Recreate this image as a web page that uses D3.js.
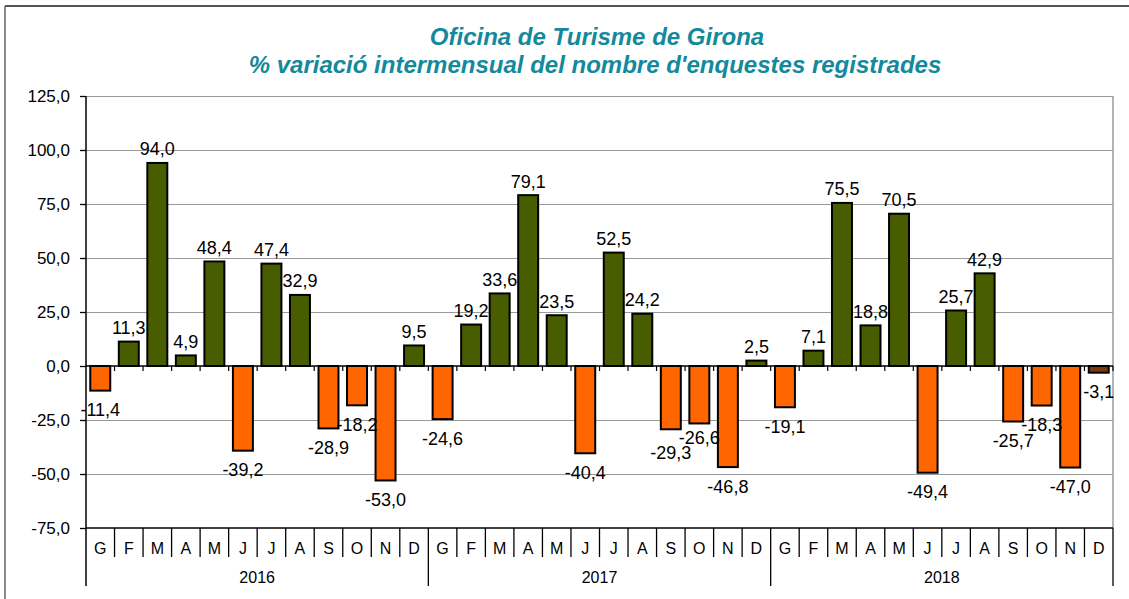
<!DOCTYPE html>
<html>
<head>
<meta charset="utf-8">
<script src="https://cdn.jsdelivr.net/npm/d3@7"></script>
<style>
  body { margin: 0; background: #fff; }
  svg { display: block; font-family: "Liberation Sans", Arial, sans-serif; }
</style>
</head>
<body>
<div id="chart"></div>
<script>
// titles
var title1 = "Oficina de Turisme de Girona";
var title2 = "% variació intermensual del nombre d'enquestes registrades";

// categories
var years = ["2016", "2017", "2018"];
var months = ["G", "F", "M", "A", "M", "J", "J", "A", "S", "O", "N", "D"];

// % variation per month, one array per year
var values2016 = [-11.4, 11.3, 94.0, 4.9, 48.4, -39.2, 47.4, 32.9, -28.9, -18.2, -53.0, 9.5];
var values2017 = [-24.6, 19.2, 33.6, 79.1, 23.5, -40.4, 52.5, 24.2, -29.3, -26.6, -46.8, 2.5];
var values2018 = [-19.1, 7.1, 75.5, 18.8, 70.5, -49.4, 25.7, 42.9, -25.7, -18.3, -47.0, -3.1];

// y axis ticks
var yTicks = [-75, -50, -25, 0, 25, 50, 75, 100, 125];

var width = 1129, height = 599;
var margin = {top: 96, right: 16, bottom: 71, left: 86};

var green = "#485d00", orange = "#ff6600", brown = "#7a3a0e";

// catalan number format: comma decimal, plain hyphen
var ca = d3.formatLocale({decimal: ",", thousands: ".", grouping: [3], currency: ["", "€"], minus: "-"});
var fmt = ca.format(".1f");

// flatten into one list of bars
var allValues = [values2016, values2017, values2018];
var data = [];
years.forEach(function(y, i) {
    months.forEach(function(m, j) {
        data.push({key: y + "-" + j, year: y, month: m, value: allValues[i][j]});
    });
});

var svg = d3.select("#chart").append("svg")
    .attr("width", width)
    .attr("height", height);

// outer frame
svg.append("line").attr("x1", 5).attr("x2", width).attr("y1", 6).attr("y2", 6)
    .attr("stroke", "#555").attr("stroke-width", 2);
svg.append("line").attr("x1", 5).attr("x2", 5).attr("y1", 6).attr("y2", height)
    .attr("stroke", "#666").attr("stroke-width", 1.5);

// title
var titleColor = "#13899b";
svg.append("text").attr("x", 597).attr("y", 45)
    .attr("text-anchor", "middle").attr("fill", titleColor)
    .attr("font-size", "24px").attr("font-weight", "bold").attr("font-style", "italic")
    .text(title1);
svg.append("text").attr("x", 595).attr("y", 73)
    .attr("text-anchor", "middle").attr("fill", titleColor)
    .attr("font-size", "24px").attr("font-weight", "bold").attr("font-style", "italic")
    .text(title2);

var x = d3.scaleBand()
    .domain(data.map(function(d) { return d.key; }))
    .range([margin.left, width - margin.right])
    .paddingInner(0.3)
    .paddingOuter(0.15);

var y = d3.scaleLinear()
    .domain([-75, 125])
    .range([528, margin.top]);

var step = x.step();
var x0 = margin.left, x1 = width - margin.right;

// right edge of a category cell
function cellEnd(d) { return x(d.key) - x.paddingOuter() * step + step; }

// gridlines
svg.append("g").selectAll("line")
    .data(yTicks.filter(function(t) { return t !== 0 && t !== -75; }))
    .enter().append("line")
    .attr("x1", x0).attr("x2", x1)
    .attr("y1", function(d) { return y(d) + 0.5; })
    .attr("y2", function(d) { return y(d) + 0.5; })
    .attr("stroke", "#9a9a9a").attr("stroke-width", 1.2);

// right border of the plot
svg.append("line").attr("x1", x1).attr("x2", x1).attr("y1", y(125)).attr("y2", y(-75))
    .attr("stroke", "#9a9a9a").attr("stroke-width", 1.5);

// y axis
var yAxis = d3.axisLeft(y)
    .tickValues(yTicks)
    .tickSize(6)
    .tickPadding(10)
    .tickFormat(fmt);

var gy = svg.append("g")
    .attr("transform", "translate(" + x0 + ",0)")
    .call(yAxis);
gy.select(".domain").remove();
gy.selectAll(".tick line").attr("stroke", "#000").attr("stroke-width", 1.3);
gy.selectAll(".tick text").attr("font-size", "17px").attr("fill", "#000")
    .attr("font-family", "'Liberation Sans', Arial, sans-serif");

// vertical axis line, down through the category box
svg.append("line").attr("x1", x0).attr("x2", x0).attr("y1", y(125)).attr("y2", 586)
    .attr("stroke", "#000").attr("stroke-width", 1.5);

// bottom line of the plot
svg.append("line").attr("x1", x0).attr("x2", x1).attr("y1", y(-75)).attr("y2", y(-75))
    .attr("stroke", "#000").attr("stroke-width", 1.3);

// bars
svg.append("g").selectAll("rect")
    .data(data, function(d) { return d.key; })
    .enter().append("rect")
    .attr("x", function(d) { return x(d.key); })
    .attr("width", x.bandwidth())
    .attr("y", function(d) { return y(Math.max(0, d.value)); })
    .attr("height", function(d) { return Math.abs(y(d.value) - y(0)); })
    .attr("fill", function(d, i) {
        if (i === data.length - 1) return brown;   // last (provisional) month
        return d.value >= 0 ? green : orange;
    })
    .attr("stroke", "#000")
    .attr("stroke-width", 2);

// zero line with small ticks at category boundaries
svg.append("line").attr("x1", x0).attr("x2", x1).attr("y1", y(0)).attr("y2", y(0))
    .attr("stroke", "#000").attr("stroke-width", 1.5);
svg.append("g").selectAll("line")
    .data(data)
    .enter().append("line")
    .attr("x1", cellEnd)
    .attr("x2", cellEnd)
    .attr("y1", y(0)).attr("y2", y(0) + 5)
    .attr("stroke", "#000").attr("stroke-width", 1.2);

// data label centres: above positive bars, below negative ones
data.forEach(function(d) {
    d.cy = d.value >= 0 ? y(d.value) - 14 : y(d.value) + 19;
});
// push apart labels of neighbouring bars that would collide
for (var i = 1; i < data.length; i++) {
    var a = data[i - 1], b = data[i];
    if ((a.value >= 0) !== (b.value >= 0)) continue;
    var gap = Math.abs(a.cy - b.cy);
    if (gap < 15) {
        var shift = (15 - gap) / 2;
        var lo = a.cy > b.cy ? a : b, hi = lo === a ? b : a;
        lo.cy += shift;
        hi.cy -= shift;
    }
}

svg.append("g").selectAll("text")
    .data(data)
    .enter().append("text")
    .attr("x", function(d) { return x(d.key) + x.bandwidth() / 2; })
    .attr("y", function(d) { return d.cy + 6.5; })
    .attr("text-anchor", "middle")
    .attr("font-size", "18px")
    .attr("fill", "#000")
    .text(function(d) { return fmt(d.value); });

// month labels and separators
var cat = svg.append("g");
cat.selectAll("text")
    .data(data)
    .enter().append("text")
    .attr("x", function(d) { return x(d.key) + x.bandwidth() / 2; })
    .attr("y", 554)
    .attr("text-anchor", "middle")
    .attr("font-size", "16px")
    .attr("fill", "#000")
    .text(function(d) { return d.month; });

cat.selectAll("line")
    .data(data)
    .enter().append("line")
    .attr("x1", cellEnd)
    .attr("x2", cellEnd)
    .attr("y1", y(-75))
    .attr("y2", function(d, i) { return (i + 1) % 12 === 0 ? 586 : 557; })
    .attr("stroke", "#000").attr("stroke-width", 1.3);

// year labels
svg.append("g").selectAll("text")
    .data(years)
    .enter().append("text")
    .attr("x", function(yr) {
        var a = x(yr + "-0"), b = x(yr + "-11") + x.bandwidth();
        return (a + b) / 2;
    })
    .attr("y", 583)
    .attr("text-anchor", "middle")
    .attr("font-size", "16px")
    .attr("fill", "#000")
    .text(function(yr) { return yr; });
</script>
</body>
</html>
